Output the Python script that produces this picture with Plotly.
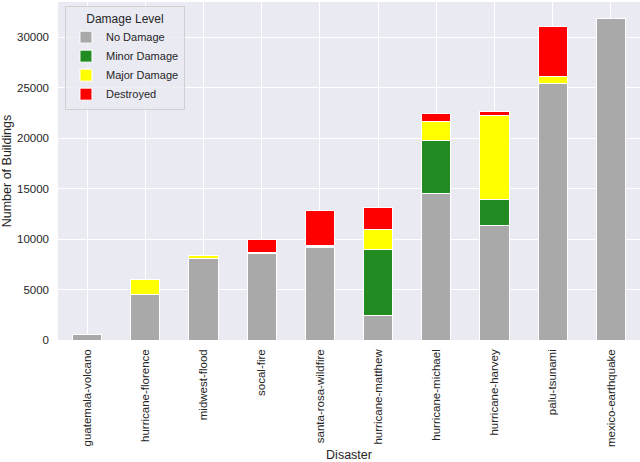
import plotly.graph_objects as go

disasters = ["guatemala-volcano", "hurricane-florence", "midwest-flood", "socal-fire",
             "santa-rosa-wildfire", "hurricane-matthew", "hurricane-michael",
             "hurricane-harvey", "palu-tsunami", "mexico-earthquake"]
no_damage = [580, 4550, 8050, 8550, 9200, 2450, 14500, 11300, 25450, 31900]
minor_damage = [0, 0, 0, 60, 60, 6500, 5300, 2600, 0, 0]
major_damage = [0, 1400, 330, 80, 120, 2000, 1850, 8350, 700, 0]
destroyed = [0, 0, 0, 1300, 3450, 2150, 800, 400, 4950, 0]

series = [("No Damage", no_damage, "#A9A9A9"),
          ("Minor Damage", minor_damage, "#228B22"),
          ("Major Damage", major_damage, "#FFFF00"),
          ("Destroyed", destroyed, "#FF0000")]

fig = go.Figure()
for name, vals, col in series:
    fig.add_trace(go.Bar(x=disasters, y=vals, name=name, width=0.5,
                         marker=dict(color=col, line=dict(color="white", width=1))))

font = "Liberation Sans, Arial, sans-serif"
fig.update_layout(
    width=640, height=462,
    barmode="stack",
    paper_bgcolor="white",
    plot_bgcolor="#EAEAF2",
    margin=dict(l=58, r=0, t=2, b=122, autoexpand=False),
    font=dict(family=font, size=11.5, color="#262626"),
    legend=dict(title=dict(text="Damage Level", side="top center", font=dict(size=12)),
                x=0.012, y=0.988, xanchor="left", yanchor="top",
                bgcolor="rgba(234,234,242,0.8)", bordercolor="#D0D0D0", borderwidth=1,
                font=dict(size=11), traceorder="normal", itemwidth=30,
                tracegroupgap=0),
)
fig.update_xaxes(title=dict(text="Disaster", font=dict(size=12.5)),
                 tickangle=-90, showgrid=True, gridcolor="white", gridwidth=1,
                 ticks="", range=[-0.5, 9.5], zeroline=False, showline=False,
                 automargin=False, ticklabelstandoff=6)
fig.update_yaxes(title=dict(text="Number of Buildings", font=dict(size=12.5)),
                 range=[0, 33500], tickvals=[0, 5000, 10000, 15000, 20000, 25000, 30000],
                 tickformat="d", showgrid=True, gridcolor="white", gridwidth=1,
                 ticks="", zeroline=False, showline=False, automargin=False,
                 ticklabelstandoff=8)

fig.write_html("out.html", config={"displayModeBar": False},
               post_script="document.body.style.margin='0';document.body.style.padding='0';")
